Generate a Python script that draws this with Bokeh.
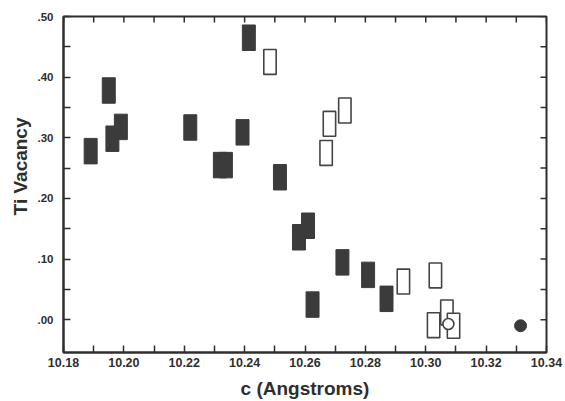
import math
from bokeh.plotting import figure
from bokeh.models import FixedTicker, Range1d, Title
from bokeh.embed import file_html
from bokeh.resources import INLINE

# ---- data ----
filled_c = [10.189, 10.195, 10.1962, 10.199, 10.222, 10.2414, 10.2318, 10.2338,
            10.2393, 10.2517, 10.258, 10.261, 10.2625, 10.2724, 10.2809, 10.287]
filled_v = [0.278, 0.378, 0.2985, 0.318, 0.317, 0.465, 0.255, 0.255,
            0.309, 0.235, 0.136, 0.155, 0.025, 0.0946, 0.074, 0.0345]

open_c = [10.2484, 10.2681, 10.2732, 10.267, 10.2926, 10.3032, 10.3026, 10.307, 10.3092]
open_v = [0.425, 0.323, 0.345, 0.275, 0.063, 0.073, -0.009, 0.012, -0.0099]

open_circle_c = [10.3075]
open_circle_v = [-0.007]
filled_circle_c = [10.3314]
filled_circle_v = [-0.0099]

x_ticks = [10.18, 10.20, 10.22, 10.24, 10.26, 10.28, 10.30, 10.32, 10.34]
x_tick_labels = ["10.18", "10.20", "10.22", "10.24", "10.26", "10.28", "10.30", "10.32", "10.34"]
x_minor = [10.19, 10.21, 10.23, 10.25, 10.27, 10.29, 10.31, 10.33]

y_ticks = [0.0, 0.1, 0.2, 0.3, 0.4, 0.5]
y_tick_labels = [".00", ".10", ".20", ".30", ".40", ".50"]
y_minor = [0.05, 0.15, 0.25, 0.35, 0.45]

x_title = "c (Angstroms)"
y_title = "Ti Vacancy"

X_START, X_END = 10.18, 10.34
Y_START, Y_END = -0.054, 0.50

AX = "#2e2e2e"
FILL = "#3b3b3b"
FONT = "Liberation Sans"

p = figure(width=565, height=401,
           x_range=Range1d(X_START, X_END), y_range=Range1d(Y_START, Y_END),
           output_backend="svg", toolbar_location=None,
           min_border_left=63, min_border_right=19, min_border_top=16, min_border_bottom=49,
           x_axis_label=x_title)
p.grid.visible = False
p.outline_line_color = AX
p.outline_line_width = 2
p.background_fill_color = "white"
p.border_fill_color = "white"

for ax in (p.xaxis[0], p.yaxis[0]):
    ax.axis_line_color = AX
    ax.axis_line_width = 2
    ax.major_tick_line_color = AX
    ax.minor_tick_line_color = AX
    ax.major_tick_line_width = 1.5
    ax.minor_tick_line_width = 1.5
    ax.major_tick_in = 7
    ax.major_tick_out = 0
    ax.minor_tick_in = 7
    ax.minor_tick_out = 0
    ax.major_label_text_font = FONT
    ax.major_label_text_font_style = "bold"
    ax.major_label_text_color = AX
    ax.axis_label_text_font = FONT
    ax.axis_label_text_font_style = "bold"
    ax.axis_label_text_color = AX

xa = p.xaxis[0]
xa.ticker = FixedTicker(ticks=x_ticks, minor_ticks=x_minor)
xa.major_label_overrides = dict(zip(x_ticks, x_tick_labels))
xa.major_label_text_font_size = "12.5px"
xa.major_label_standoff = 5
xa.axis_label_text_font_size = "19px"
xa.axis_label_standoff = 8

ya = p.yaxis[0]
ya.ticker = FixedTicker(ticks=y_ticks, minor_ticks=y_minor)
ya.major_label_overrides = dict(zip(y_ticks, y_tick_labels))
ya.major_label_text_font_size = "11.5px"
ya.major_label_standoff = 10

# y-axis title: a left-side title, its end placed a little above the axis centre
p.add_layout(Title(text=y_title, align="right", offset=101, standoff=7,
                   vertical_align="bottom", text_font=FONT, text_font_style="bold",
                   text_font_size="19px", text_color=AX), "left")

# inward ticks on the top and right frame edges (half of each dash is clipped by the frame)
top_ticks = x_ticks + x_minor
p.scatter(top_ticks, [Y_END] * len(top_ticks), marker="dash", size=12, angle=math.pi / 2,
          line_color=AX, line_width=1.5)
right_ticks = y_ticks + y_minor
p.scatter([X_END] * len(right_ticks), right_ticks, marker="dash", size=12,
          line_color=AX, line_width=1.5)

p.rect(filled_c, filled_v, width=0.0043, height=0.042,
       fill_color=FILL, line_color=FILL, line_width=1)
p.rect(open_c, open_v, width=0.0041, height=0.041,
       fill_color="white", line_color="#444444", line_width=1.6)
p.scatter(open_circle_c, open_circle_v, size=11, marker="circle",
          fill_color="white", line_color="#444444", line_width=1.6)
p.scatter(filled_circle_c, filled_circle_v, size=12, marker="circle",
          fill_color=FILL, line_color=FILL)

open("out.html", "w").write(file_html(p, INLINE))
